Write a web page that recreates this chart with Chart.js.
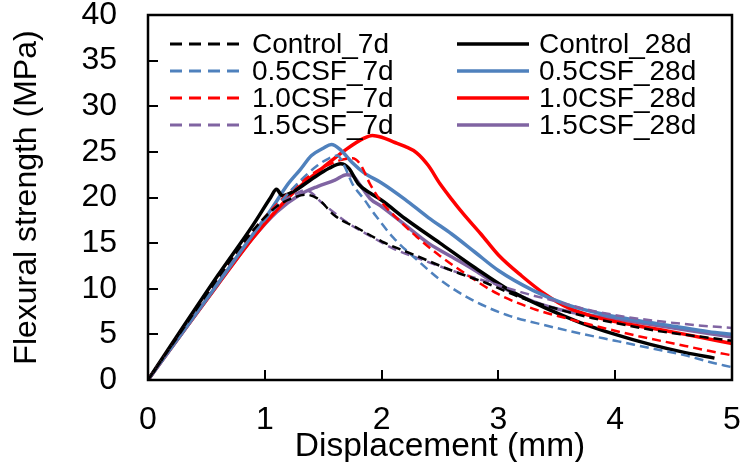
<!DOCTYPE html>
<html>
<head>
<meta charset="utf-8">
<script src="https://cdn.jsdelivr.net/npm/chart.js@4"></script>
<style>
  html, body { margin: 0; padding: 0; background: #fff; }
  #wrap { width: 740px; height: 462px; }
</style>
</head>
<body>
<div id="wrap"><canvas id="flexChart" width="740" height="462"></canvas></div>
<script>
// Load-displacement curves
const ctrl7dX = [0, 0.3, 0.6, 0.9, 1.1, 1.25, 1.35, 1.45, 1.6, 1.8, 2.0, 2.3, 2.6, 2.9, 3.2, 3.5, 3.8, 4.1, 4.4, 4.7, 5.0];
const ctrl7dY = [0, 5.6, 11.2, 16.4, 19.0, 20.0, 20.3, 19.9, 18.0, 16.6, 15.2, 13.6, 12.0, 10.6, 9.0, 7.8, 6.8, 6.0, 5.3, 4.8, 4.3];

const ctrl28dX = [0, 0.3, 0.6, 0.9, 1.05, 1.1, 1.15, 1.25, 1.4, 1.55, 1.65, 1.72, 1.8, 1.9, 2.0, 2.2, 2.5, 2.8, 3.1, 3.4, 3.7, 4.0, 4.3, 4.6, 4.85];
const ctrl28dY = [0, 5.8, 11.5, 17.0, 20.0, 20.9, 20.2, 20.7, 22.0, 23.2, 23.7, 23.2, 21.5, 20.5, 19.7, 17.7, 15.0, 12.3, 9.8, 7.9, 6.3, 5.0, 3.9, 3.0, 2.4];

const csf05_7dX = [0, 0.3, 0.6, 0.9, 1.1, 1.3, 1.45, 1.55, 1.62, 1.68, 1.75, 1.85, 1.95, 2.1, 2.3, 2.5, 2.7, 2.9, 3.1, 3.4, 3.7, 4.0, 4.3, 4.6, 4.8, 5.0];
const csf05_7dY = [0, 5.4, 10.8, 16.0, 19.0, 21.8, 23.5, 24.3, 24.6, 23.5, 21.5, 19.8, 18.0, 15.6, 13.2, 11.0, 9.3, 8.0, 7.0, 6.0, 5.1, 4.3, 3.5, 2.7, 2.0, 1.4];

const csf05_28dX = [0, 0.3, 0.6, 0.9, 1.05, 1.2, 1.3, 1.4, 1.5, 1.57, 1.65, 1.75, 1.85, 2.0, 2.2, 2.4, 2.6, 2.8, 3.0, 3.3, 3.6, 3.9, 4.2, 4.5, 4.8, 5.0];
const csf05_28dY = [0, 5.3, 10.6, 16.0, 18.6, 21.5, 23.0, 24.6, 25.4, 25.8, 25.2, 23.8, 22.7, 21.6, 19.8, 17.8, 16.0, 14.0, 12.0, 9.8, 8.2, 7.2, 6.5, 5.9, 5.3, 5.0];

const csf10_7dX = [0, 0.3, 0.6, 0.9, 1.1, 1.3, 1.5, 1.65, 1.75, 1.82, 1.9, 2.0, 2.15, 2.3, 2.5, 2.7, 3.0, 3.3, 3.6, 3.9, 4.2, 4.5, 4.8, 5.0];
const csf10_7dY = [0, 5.5, 11.0, 16.3, 19.2, 21.6, 23.3, 24.1, 24.3, 23.6, 21.5, 19.5, 17.5, 15.7, 13.6, 11.8, 9.4, 7.8, 6.7, 5.7, 4.8, 4.0, 3.2, 2.7];

const csf10_28dX = [0, 0.3, 0.6, 0.9, 1.1, 1.3, 1.5, 1.7, 1.85, 1.92, 2.0, 2.1, 2.2, 2.3, 2.4, 2.5, 2.6, 2.7, 2.85, 3.0, 3.2, 3.4, 3.6, 3.8, 4.0, 4.3, 4.6, 5.0];
const csf10_28dY = [0, 5.3, 10.5, 15.6, 18.6, 21.2, 23.3, 25.3, 26.5, 26.8, 26.6, 26.1, 25.6, 24.9, 23.5, 21.5, 19.8, 18.2, 16.0, 13.7, 11.4, 9.4, 7.9, 7.0, 6.4, 5.7, 5.0, 4.0];

const csf15_7dX = [0, 0.3, 0.6, 0.9, 1.1, 1.25, 1.35, 1.5, 1.7, 1.9, 2.1, 2.3, 2.6, 2.9, 3.2, 3.5, 3.8, 4.1, 4.4, 4.7, 5.0];
const csf15_7dY = [0, 5.4, 10.8, 16.0, 19.0, 20.3, 20.8, 19.3, 17.3, 15.8, 14.4, 13.4, 12.0, 10.8, 9.6, 8.6, 7.6, 6.9, 6.4, 6.0, 5.7];

const csf15_28dX = [0, 0.3, 0.6, 0.9, 1.1, 1.3, 1.45, 1.6, 1.7, 1.75, 1.82, 1.9, 2.0, 2.2, 2.4, 2.6, 2.8, 3.0, 3.3, 3.6, 3.9, 4.2, 4.5, 4.8, 5.0];
const csf15_28dY = [0, 5.3, 10.5, 15.6, 18.4, 20.3, 21.2, 21.9, 22.5, 22.4, 21.3, 19.9, 19.0, 17.0, 15.0, 13.5, 12.0, 10.4, 8.6, 7.5, 6.9, 6.3, 5.7, 5.1, 4.7];

const xTicks = [0, 1, 2, 3, 4, 5];
const yTicks = [0, 5, 10, 15, 20, 25, 30, 35, 40];

const FONT = "'Liberation Sans', Arial, sans-serif";

function pts(xs, ys) {
    return xs.map((x, i) => ({ x: x, y: ys[i] }));
}

function series(label, xs, ys, color, dashed) {
    return {
        label: label,
        data: pts(xs, ys),
        borderColor: color,
        backgroundColor: color,
        borderWidth: dashed ? 2.5 : 3.5,
        borderDash: dashed ? [9, 5] : [],
        pointRadius: 0,
        fill: false,
        cubicInterpolationMode: 'monotone',
        column: dashed ? 0 : 1
    };
}

const datasets = [
    series('Control_7d', ctrl7dX, ctrl7dY, '#000000', true),
    series('0.5CSF_7d', csf05_7dX, csf05_7dY, '#4f81bd', true),
    series('1.0CSF_7d', csf10_7dX, csf10_7dY, '#ff0000', true),
    series('1.5CSF_7d', csf15_7dX, csf15_7dY, '#8064a2', true),
    series('Control_28d', ctrl28dX, ctrl28dY, '#000000', false),
    series('0.5CSF_28d', csf05_28dX, csf05_28dY, '#4f81bd', false),
    series('1.0CSF_28d', csf10_28dX, csf10_28dY, '#ff0000', false),
    series('1.5CSF_28d', csf15_28dX, csf15_28dY, '#8064a2', false)
];

// frame box + inward ticks like the Excel original
const framePlugin = {
    id: 'frame',
    afterDraw(chart) {
        const ctx = chart.ctx;
        const a = chart.chartArea;
        const xs = chart.scales.x, ys = chart.scales.y;
        ctx.save();
        ctx.strokeStyle = '#000';
        ctx.lineWidth = 2.5;
        ctx.strokeRect(a.left, a.top, a.right - a.left, a.bottom - a.top);
        ctx.lineWidth = 2;
        ctx.beginPath();
        yTicks.forEach(v => {
            const py = Math.round(ys.getPixelForValue(v));
            ctx.moveTo(a.left, py);
            ctx.lineTo(a.left + 10, py);
        });
        xTicks.forEach(v => {
            const px = Math.round(xs.getPixelForValue(v));
            ctx.moveTo(px, a.bottom);
            ctx.lineTo(px, a.bottom - 10);
        });
        ctx.stroke();
        ctx.restore();
    }
};

// two-column legend inside the plot (7d dashed left, 28d solid right)
const legendPlugin = {
    id: 'insideLegend',
    afterDraw(chart) {
        const ctx = chart.ctx;
        const a = chart.chartArea;
        const colX = [a.left + 22, a.left + 309];
        const lineLen = 72;
        const rowY = [a.top + 29, a.top + 56, a.top + 83, a.top + 110];
        const rows = [0, 0];
        ctx.save();
        ctx.font = '28px ' + FONT;
        ctx.textBaseline = 'middle';
        ctx.textAlign = 'left';
        chart.data.datasets.forEach(ds => {
            const c = ds.column;
            const y = rowY[rows[c]++];
            ctx.strokeStyle = ds.borderColor;
            ctx.lineWidth = ds.borderDash.length ? 3 : 3.5;
            ctx.setLineDash(ds.borderDash.length ? [12, 7] : []);
            ctx.beginPath();
            ctx.moveTo(colX[c], y);
            ctx.lineTo(colX[c] + lineLen, y);
            ctx.stroke();
            ctx.setLineDash([]);
            ctx.fillStyle = '#000';
            ctx.fillText(ds.label, colX[c] + lineLen + 10, y + 1);
        });
        ctx.restore();
    }
};

const ctx = document.getElementById('flexChart').getContext('2d');
const flexChart = new Chart(ctx, {
    type: 'line',
    data: { datasets: datasets },
    options: {
        responsive: false,
        animation: false,
        layout: { padding: { top: 15, right: 8, left: 0, bottom: 0 } },
        scales: {
            x: {
                type: 'linear',
                min: 0,
                max: 5,
                afterFit(scale) {
                    scale.height = 82;
                    scale.paddingLeft = 0;
                    scale.paddingRight = 0;
                },
                afterBuildTicks(scale) { scale.ticks = xTicks.map(v => ({ value: v })); },
                grid: { display: false, drawTicks: false },
                border: { display: false },
                ticks: {
                    padding: 21,
                    color: '#000',
                    maxRotation: 0,
                    autoSkip: false,
                    font: { family: FONT, size: 32 }
                },
                title: {
                    display: true,
                    text: 'Displacement (mm)',
                    color: '#000',
                    font: { family: FONT, size: 33.5, lineHeight: 1 },
                    padding: { top: 0, bottom: -2 }
                }
            },
            y: {
                min: 0,
                max: 40,
                afterFit(scale) {
                    scale.width = 148;
                    scale.paddingTop = 0;
                    scale.paddingBottom = 0;
                },
                afterBuildTicks(scale) { scale.ticks = yTicks.map(v => ({ value: v })); },
                grid: { display: false, drawTicks: false },
                border: { display: false },
                ticks: {
                    padding: 31,
                    color: '#000',
                    autoSkip: false,
                    font: { family: FONT, size: 32 }
                },
                title: {
                    display: true,
                    text: 'Flexural strength (MPa)',
                    color: '#000',
                    font: { family: FONT, size: 32, lineHeight: 1 },
                    padding: { top: 11, bottom: 0 }
                }
            }
        },
        plugins: {
            legend: { display: false },
            tooltip: { enabled: false }
        }
    },
    plugins: [framePlugin, legendPlugin]
});
</script>
</body>
</html>
